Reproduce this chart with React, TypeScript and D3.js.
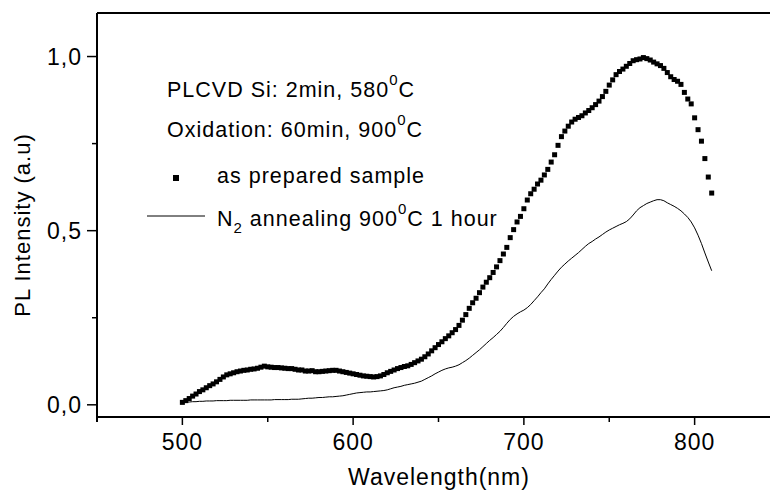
import React from 'react';
import * as d3 from 'd3';

// Wavelength grid (nm), sampled every 2 nm from 500 to 810
const wavelengths: number[] = d3.range(500, 811, 2);

// as prepared sample (square markers)
const asPrepared: number[] = [
  0.007, 0.012, 0.018, 0.025, 0.031, 0.038, 0.043, 0.049, 0.055, 0.060,
  0.066, 0.073, 0.080, 0.086, 0.089, 0.092, 0.095, 0.097, 0.099, 0.100,
  0.102, 0.103, 0.105, 0.108, 0.111, 0.109, 0.108, 0.107, 0.107, 0.106,
  0.105, 0.104, 0.104, 0.102, 0.100, 0.100, 0.097, 0.097, 0.098, 0.095,
  0.095, 0.096, 0.097, 0.098, 0.099, 0.099, 0.097, 0.095, 0.093, 0.091,
  0.089, 0.087, 0.085, 0.083, 0.082, 0.081, 0.080, 0.081, 0.083, 0.087,
  0.092, 0.096, 0.100, 0.104, 0.107, 0.110, 0.112, 0.116, 0.121, 0.126,
  0.131, 0.138, 0.146, 0.155, 0.164, 0.173, 0.181, 0.190, 0.198, 0.207,
  0.216, 0.228, 0.243, 0.259, 0.277, 0.293, 0.306, 0.322, 0.338, 0.352,
  0.365, 0.380, 0.396, 0.414, 0.433, 0.452, 0.480, 0.503, 0.525, 0.541,
  0.563, 0.588, 0.606, 0.619, 0.634, 0.645, 0.660, 0.676, 0.697, 0.718,
  0.745, 0.770, 0.786, 0.800, 0.812, 0.820, 0.825, 0.830, 0.838, 0.845,
  0.853, 0.862, 0.872, 0.885, 0.900, 0.918, 0.933, 0.948, 0.957, 0.964,
  0.972, 0.980, 0.988, 0.991, 0.993, 0.997, 0.994, 0.990, 0.984, 0.979,
  0.974, 0.966, 0.954, 0.942, 0.934, 0.929, 0.920, 0.897, 0.878, 0.864,
  0.824, 0.790, 0.757, 0.707, 0.654, 0.608,
];

// N2 annealing 900 C 1 hour (thin line)
const n2Annealed: number[] = [
  0.007, 0.008, 0.008, 0.009, 0.009, 0.010, 0.010, 0.011, 0.011, 0.011,
  0.012, 0.012, 0.012, 0.012, 0.013, 0.013, 0.013, 0.013, 0.013, 0.013,
  0.014, 0.014, 0.014, 0.014, 0.014, 0.014, 0.014, 0.015, 0.015, 0.015,
  0.015, 0.015, 0.016, 0.016, 0.016, 0.017, 0.018, 0.019, 0.019, 0.020,
  0.021, 0.021, 0.022, 0.023, 0.023, 0.024, 0.025, 0.026, 0.028, 0.030,
  0.032, 0.034, 0.035, 0.036, 0.037, 0.037, 0.038, 0.039, 0.040, 0.041,
  0.043, 0.046, 0.049, 0.051, 0.053, 0.056, 0.058, 0.060, 0.062, 0.065,
  0.068, 0.073, 0.078, 0.083, 0.089, 0.094, 0.099, 0.103, 0.106, 0.108,
  0.111, 0.115, 0.121, 0.127, 0.134, 0.142, 0.150, 0.158, 0.167, 0.176,
  0.185, 0.193, 0.202, 0.211, 0.222, 0.234, 0.245, 0.254, 0.261, 0.267,
  0.272, 0.279, 0.288, 0.299, 0.310, 0.322, 0.333, 0.347, 0.360, 0.372,
  0.384, 0.395, 0.404, 0.413, 0.421, 0.429, 0.437, 0.446, 0.455, 0.463,
  0.469, 0.476, 0.482, 0.489, 0.496, 0.502, 0.507, 0.512, 0.517, 0.521,
  0.526, 0.534, 0.545, 0.557, 0.566, 0.572, 0.578, 0.582, 0.586, 0.589,
  0.589, 0.586, 0.580, 0.575, 0.570, 0.564, 0.557, 0.548, 0.538, 0.525,
  0.508, 0.487, 0.463, 0.436, 0.410, 0.385,
];

const xMajorTicks = [500, 600, 700, 800];
const xMinorTicks = [550, 650, 750, 850];
const yMajorTicks = [0, 0.5, 1.0];
const yMinorTicks = [0.25, 0.75];
const yTickLabels = ['0,0', '0,5', '1,0'];

const W = 770;
const H = 491;
const FONT = '"Liberation Sans", Arial, Helvetica, sans-serif';

export default function App() {
  const x = d3.scaleLinear().domain([450, 850]).range([97, 780]);
  const y = d3.scaleLinear().domain([-0.035, 1.125]).range([417, 13]);

  const linePts: [number, number][] = wavelengths.map((w, i) => [w, n2Annealed[i]]);
  const lineGen = d3
    .line<[number, number]>()
    .x((d) => x(d[0]))
    .y((d) => y(d[1]));

  const xAxisY = y(-0.035);
  const yAxisX = x(450);
  const topY = y(1.125);

  const textStyle: React.CSSProperties = { fontFamily: FONT, letterSpacing: '1px' };

  return (
    <svg
      width={W}
      height={H}
      style={{ position: 'absolute', left: 0, top: 0, display: 'block', background: '#fff' }}
    >
      <rect x={0} y={0} width={W} height={H} fill="#fff" />

      {/* frame */}
      <line x1={yAxisX} x2={W + 20} y1={topY} y2={topY} stroke="#000" strokeWidth={2} />
      <line x1={yAxisX} x2={yAxisX} y1={topY} y2={xAxisY + 5} stroke="#000" strokeWidth={2} />
      <line x1={yAxisX} x2={W + 20} y1={xAxisY} y2={xAxisY} stroke="#000" strokeWidth={2} />

      {/* x ticks */}
      {xMajorTicks.map((t) => (
        <line key={'xM' + t} x1={x(t)} x2={x(t)} y1={xAxisY} y2={xAxisY + 8} stroke="#000" strokeWidth={1.5} />
      ))}
      {xMinorTicks.map((t) => (
        <line key={'xm' + t} x1={x(t)} x2={x(t)} y1={xAxisY} y2={xAxisY + 5} stroke="#000" strokeWidth={1.5} />
      ))}
      {xMajorTicks.map((t) => (
        <text key={'xl' + t} x={x(t)} y={449.5} textAnchor="middle" fontSize={23} style={textStyle}>
          {t}
        </text>
      ))}

      {/* y ticks */}
      {yMajorTicks.map((t) => (
        <line key={'yM' + t} x1={yAxisX - 10} x2={yAxisX} y1={y(t)} y2={y(t)} stroke="#000" strokeWidth={1.5} />
      ))}
      {yMinorTicks.map((t) => (
        <line key={'ym' + t} x1={yAxisX - 5} x2={yAxisX} y1={y(t)} y2={y(t)} stroke="#000" strokeWidth={1.5} />
      ))}
      {yMajorTicks.map((t, i) => (
        <text
          key={'yl' + t}
          x={82}
          y={y(t)}
          dy="0.36em"
          textAnchor="end"
          fontSize={23}
          style={textStyle}
        >
          {yTickLabels[i]}
        </text>
      ))}

      {/* axis titles */}
      <text x={439} y={485} textAnchor="middle" fontSize={23} style={textStyle}>
        Wavelength(nm)
      </text>
      <text
        transform={`translate(30,225) rotate(-90)`}
        textAnchor="middle"
        fontSize={22}
        style={textStyle}
      >
        PL Intensity (a.u)
      </text>

      {/* data */}
      <path d={lineGen(linePts) || ''} fill="none" stroke="#000" strokeWidth={1} />
      {wavelengths.map((w, i) => (
        <rect key={'s' + w} x={x(w) - 2.5} y={y(asPrepared[i]) - 2.5} width={5} height={5} fill="#000" />
      ))}

      {/* annotations / legend */}
      <text x={167} y={97} fontSize={21.5} style={textStyle}>
        PLCVD Si: 2min, 580
        <tspan fontSize={15} dy={-12}>0</tspan>
        <tspan dy={12}>C</tspan>
      </text>
      <text x={167} y={137} fontSize={21.5} style={textStyle}>
        Oxidation: 60min, 900
        <tspan fontSize={15} dy={-12}>0</tspan>
        <tspan dy={12}>C</tspan>
      </text>
      <rect x={173} y={175} width={6} height={6} fill="#000" />
      <text x={217} y={183} fontSize={21.5} style={textStyle}>
        as prepared sample
      </text>
      <line x1={147} x2={205} y1={216} y2={216} stroke="#000" strokeWidth={1} />
      <text x={217} y={226} fontSize={21.5} style={textStyle}>
        N
        <tspan fontSize={15} dy={7}>2</tspan>
        <tspan dy={-7}> annealing 900</tspan>
        <tspan fontSize={15} dy={-12}>0</tspan>
        <tspan dy={12}>C 1 hour</tspan>
      </text>
    </svg>
  );
}
